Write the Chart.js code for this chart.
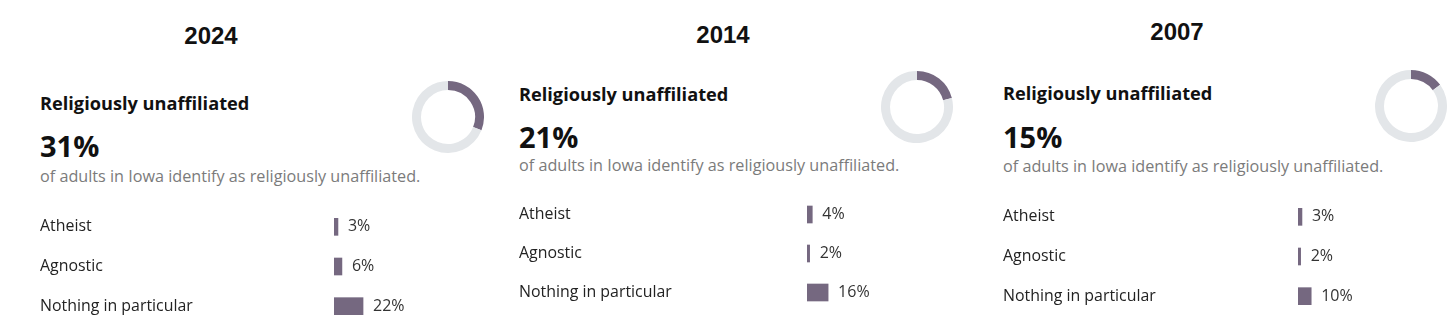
<!DOCTYPE html>
<html>
<head>
<meta charset="utf-8">
<script src="https://cdn.jsdelivr.net/npm/chart.js@4"></script>
<style>
  html, body { margin: 0; padding: 0; background: #fff; }
  body { width: 1456px; height: 336px; position: relative; overflow: hidden; font-family: "Open Sans", "Liberation Sans", sans-serif; }
  .abs { position: absolute; white-space: nowrap; }
  .year { font-family: "Liberation Sans", Arial, sans-serif; font-weight: bold; font-size: 24px; line-height: 26px; color: #111; transform: translateX(-50%); }
  .head { font-weight: 700; font-size: 18.2px; line-height: 22px; color: #111; }
  .big { font-weight: 700; font-size: 29px; line-height: 34px; color: #111; }
  .sub { font-size: 16.2px; line-height: 20px; color: #7b7b7b; }
  canvas { display: block; }
</style>
</head>
<body>
<script>
// survey values per year
const years = ['2024', '2014', '2007'];
const unaffiliated = [31, 21, 15];
const categories = ['Atheist', 'Agnostic', 'Nothing in particular'];
const atheist = [3, 4, 3];
const agnostic = [6, 2, 2];
const nothingInParticular = [22, 16, 10];

const BAR_COLOR = '#756880';
const TRACK_COLOR = '#e3e6e9';
const FONT = '"Open Sans", "Liberation Sans", sans-serif';

// where each panel sits on the page
const panels = [
    { yearX: 211, yearY: 36, left: 40, headY: 103, bigY: 146, subY: 176, donutX: 448, donutY: 117, barTop: 207, barH: 119, labelW: 294 },
    { yearX: 723, yearY: 35, left: 519, headY: 94, bigY: 137, subY: 165, donutX: 917, donutY: 107, barTop: 195, barH: 117, labelW: 288 },
    { yearX: 1177, yearY: 32, left: 1003, headY: 93, bigY: 137, subY: 166, donutX: 1411, donutY: 106, barTop: 197, barH: 119, labelW: 295 }
];

function addText(cls, text, x, y, lh) {
    const el = document.createElement('div');
    el.className = 'abs ' + cls;
    el.textContent = text;
    el.style.left = x + 'px';
    el.style.top = (y - lh / 2) + 'px';
    document.body.appendChild(el);
    return el;
}

function addCanvas(x, y, w, h) {
    const wrap = document.createElement('div');
    wrap.className = 'abs';
    wrap.style.left = x + 'px';
    wrap.style.top = y + 'px';
    wrap.style.width = w + 'px';
    wrap.style.height = h + 'px';
    const cv = document.createElement('canvas');
    cv.width = w;
    cv.height = h;
    wrap.appendChild(cv);
    document.body.appendChild(wrap);
    return cv;
}

// prints the percentage just past the end of each bar
const valueLabels = {
    id: 'valueLabels',
    afterDatasetsDraw(chart) {
        const ctx = chart.ctx;
        const meta = chart.getDatasetMeta(0);
        ctx.save();
        ctx.font = '16px ' + FONT;
        ctx.fillStyle = '#333';
        ctx.textBaseline = 'middle';
        meta.data.forEach((bar, i) => {
            const v = chart.data.datasets[0].data[i];
            ctx.fillText(v + '%', bar.x + 10, bar.y);
        });
        ctx.restore();
    }
};

const PX_PER_PCT = 1.32;

panels.forEach((p, i) => {
    addText('year', years[i], p.yearX, p.yearY, 26);
    addText('head', 'Religiously unaffiliated', p.left, p.headY, 22);
    addText('big', unaffiliated[i] + '%', p.left, p.bigY, 34);
    addText('sub', 'of adults in Iowa identify as religiously unaffiliated.', p.left, p.subY, 20);

    // ring showing the unaffiliated share
    const r = 36;
    const donut = addCanvas(p.donutX - r, p.donutY - r, r * 2, r * 2);
    new Chart(donut, {
        type: 'doughnut',
        data: {
            labels: ['Unaffiliated', 'Other'],
            datasets: [{
                data: [unaffiliated[i], 100 - unaffiliated[i]],
                backgroundColor: [BAR_COLOR, TRACK_COLOR],
                borderWidth: 0
            }]
        },
        options: {
            responsive: false,
            animation: false,
            cutout: '75%',
            events: [],
            plugins: { legend: { display: false }, tooltip: { enabled: false } }
        }
    });

    // breakdown bars
    const plotW = Math.round(100 * PX_PER_PCT);
    const barCv = addCanvas(p.left, p.barTop, p.labelW + plotW + 40, p.barH);
    new Chart(barCv, {
        type: 'bar',
        data: {
            labels: categories,
            datasets: [{
                data: [atheist[i], agnostic[i], nothingInParticular[i]],
                backgroundColor: BAR_COLOR,
                barThickness: 17
            }]
        },
        options: {
            indexAxis: 'y',
            responsive: false,
            animation: false,
            events: [],
            layout: { padding: { left: 0, right: 40, top: 0, bottom: 0 } },
            scales: {
                x: { display: false, min: 0, max: 100 },
                y: {
                    grid: { display: false },
                    border: { display: false },
                    ticks: {
                        crossAlign: 'far',
                        padding: 0,
                        color: '#222',
                        font: { size: 15.9, family: FONT }
                    },
                    afterFit(scale) {
                        scale.width = p.labelW;
                        // rows fill the full canvas height
                        scale.paddingTop = 0;
                        scale.paddingBottom = 0;
                    }
                }
            },
            plugins: { legend: { display: false }, tooltip: { enabled: false } }
        },
        plugins: [valueLabels]
    });
});
</script>
</body>
</html>
